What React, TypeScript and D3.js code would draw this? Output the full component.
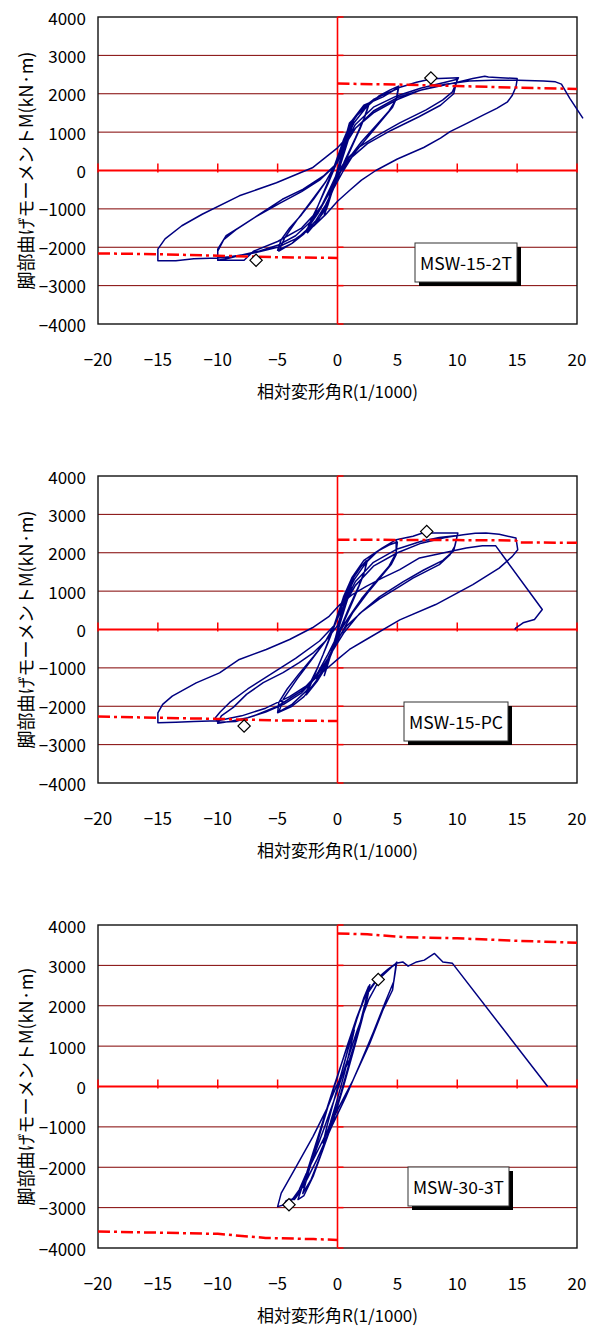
import React from "react";
import * as d3 from "d3";

// moment vs drift angle for three wall specimens
// each path is listed in loading order: [R (1/1000), M (kN·m)]

const xTicks = [-20, -15, -10, -5, 0, 5, 10, 15, 20];
const yTicks = [4000, 3000, 2000, 1000, 0, -1000, -2000, -3000, -4000];

const loops152T: [number, number][] = [
  [0, 0], [0.4, 400], [0.9, 900], [1.2, 1150], [0.9, 800], [0.3, 200], [-0.3, -400], [-0.8, -900], [-1.1, -1150], [-0.8, -800], [-0.2, -200], [0.3, 350],
  [0.8, 950], [1.5, 1400], [2.1, 1600], [2.6, 1700], [2.4, 1500], [1.9, 1100], [1.1, 550], [0.3, 0], [-0.5, -600], [-1.2, -1100], [-1.9, -1400], [-2.6, -1600],
  [-2.3, -1350], [-1.6, -900], [-0.8, -350], [0, 250], [0.7, 900], [1.0, 1240], [2.0, 1550], [2.55, 1670], [2.2, 1350], [1.5, 850], [0.6, 250], [-0.2, -350], [-1.0, -950], [-1.6, -1290], [-2.5, -1620], [-2.0, -1200], [-1.2, -600], [-0.4, 0],
  [0.4, 700], [1.0, 1150], [2.0, 1600], [3.0, 1850], [4.0, 2000], [4.8, 2100], [5.1, 2150],
  [4.95, 1900], [4.6, 1650], [3.8, 1350], [2.6, 900], [1.4, 450], [0.5, 0], [-0.3, -450], [-1.0, -900], [-1.8, -1300], [-2.8, -1650], [-3.8, -1900], [-5.0, -2080],
  [-4.7, -1800], [-4.0, -1500], [-3.0, -1150], [-2.0, -750], [-1.0, -300], [-0.2, 150], [0.6, 750], [1.4, 1250], [2.4, 1650], [3.5, 1950], [4.4, 2100], [5.1, 2200],
  [4.9, 1850], [4.3, 1550], [3.3, 1200], [2.0, 750], [0.9, 300], [0, -150], [-0.8, -650], [-1.6, -1100], [-2.6, -1550], [-3.8, -1900], [-4.9, -2100],
  [-4.4, -1750], [-3.4, -1300], [-2.2, -800], [-1.0, -300], [-0.2, 150],
  [0.5, 800], [1.2, 1300], [2.2, 1700], [3.8, 1920], [5.0, 2150], [5.8, 2220], [6.6, 2300], [7.9, 2390], [8.5, 2400], [10.1, 2420],
  [10.0, 2350], [9.6, 2050], [8.8, 1840], [7.4, 1580], [5.2, 1240], [3.2, 890], [1.9, 630], [0.75, 290], [0, -50], [-0.6, -450], [-1.3, -900], [-2.3, -1350], [-3.5, -1700], [-5.0, -1950], [-6.5, -2100], [-8.0, -2200], [-9.0, -2280], [-10.0, -2340],
  [-10.0, -2050], [-9.3, -1700], [-8.2, -1480], [-6.5, -1140], [-4.6, -750], [-2.9, -490], [-1.2, -150], [0, 200],
  [0.6, 700], [1.5, 1200], [3.0, 1650], [5.0, 1950], [7.0, 2150], [9.0, 2300], [10.0, 2380],
  [9.7, 2000], [8.6, 1700], [6.8, 1400], [4.5, 1050], [2.5, 700], [1.2, 350], [0.2, -50], [-0.5, -500], [-1.5, -1000], [-3.0, -1500], [-5.0, -1850], [-7.0, -2100], [-7.8, -2340], [-10.0, -2340], [-10.0, -2100],
  [-9.5, -1800], [-8.5, -1550], [-6.8, -1200], [-4.8, -850], [-3.0, -550], [-1.5, -250], [-0.3, 100],
  [0.5, 600], [1.5, 1100], [3.0, 1550], [5.0, 1900], [7.0, 2100], [10.0, 2300], [11.3, 2395], [12.3, 2455], [12.6, 2435], [13.6, 2420], [15.0, 2395],
  [15.0, 2370], [14.9, 2180], [14.6, 1960], [14.2, 1790], [13.3, 1620], [12.2, 1450], [10.8, 1230], [9.4, 1015], [8.6, 845], [7.2, 600], [5.0, 300], [3.2, 0], [2.0, -250], [1.0, -520], [0, -800], [-1.0, -1150], [-2.0, -1450], [-3.5, -1780], [-5.0, -2000], [-7.0, -2150], [-9.0, -2250], [-10.0, -2280], [-12.0, -2300], [-13.5, -2350], [-15.0, -2350],
  [-15.0, -2050], [-14.4, -1780], [-13.0, -1440], [-11.3, -1140], [-8.2, -660], [-5.1, -320], [-2.1, 70], [0, 590], [1.5, 1100], [3.0, 1500], [5.0, 1850], [7.0, 2100], [9.0, 2250], [11.0, 2330], [13.0, 2350], [15.1, 2350], [17.2, 2335], [18.2, 2310], [18.7, 2250], [19.4, 1880], [20.5, 1360],
];
const calcPos152T: [number, number][] = [[0, 2265], [5, 2240], [10, 2200], [15, 2160], [20, 2125]];
const calcNeg152T: [number, number][] = [[-20, -2160], [-15, -2180], [-10, -2220], [-5, -2260], [0, -2280]];
const peaks152T: [number, number][] = [[7.8, 2410], [-6.8, -2340]];

const loops15PC: [number, number][] = [
  [0, 0], [0.4, 450], [0.9, 950], [1.2, 1200], [0.9, 850], [0.3, 250], [-0.3, -400], [-0.8, -900], [-1.1, -1200], [-0.8, -850], [-0.2, -250], [0.3, 350],
  [0.8, 1000], [1.5, 1450], [2.0, 1650], [2.4, 1790], [2.3, 1550], [1.8, 1150], [1.0, 600], [0.2, 0], [-0.6, -650], [-1.3, -1150], [-2.0, -1450], [-2.6, -1650],
  [-2.3, -1400], [-1.6, -950], [-0.8, -350], [0, 300], [0.7, 950], [1.3, 1350], [2.0, 1650], [2.5, 1800], [2.2, 1450], [1.5, 900], [0.6, 250], [-0.2, -400], [-1.0, -1000], [-1.7, -1350], [-2.6, -1700], [-2.0, -1250], [-1.2, -650], [-0.4, 0],
  [0.4, 750], [1.0, 1200], [2.0, 1650], [3.0, 1950], [3.75, 2125], [4.9, 2340],
  [4.9, 1950], [4.5, 1700], [3.7, 1400], [2.5, 950], [1.3, 450], [0.5, 0], [-0.3, -450], [-1.0, -900], [-1.8, -1350], [-2.8, -1750], [-3.8, -2000], [-5.0, -2170],
  [-4.9, -1900], [-4.2, -1550], [-3.2, -1150], [-2.0, -700], [-1.0, -300], [-0.2, 150], [0.6, 800], [1.4, 1300], [2.4, 1750], [3.4, 2050], [4.3, 2200], [5.0, 2280],
  [4.9, 2000], [4.3, 1650], [3.2, 1250], [2.0, 800], [0.9, 300], [0, -150], [-0.8, -650], [-1.6, -1100], [-2.6, -1600], [-3.8, -1950], [-4.9, -2150],
  [-4.5, -1800], [-3.4, -1300], [-2.2, -800], [-1.0, -300], [-0.2, 150],
  [0.5, 850], [1.2, 1350], [2.2, 1800], [3.75, 2125], [4.9, 2340], [6.3, 2430], [7.1, 2515], [8.5, 2515], [10.05, 2515],
  [9.8, 2170], [9.4, 1950], [8.5, 1690], [7.4, 1515], [6.3, 1340], [5.2, 1125], [3.5, 800], [2.0, 450], [0.8, 100], [0, -250], [-0.8, -750], [-1.8, -1250], [-3.0, -1650], [-4.5, -1950], [-6.0, -2150], [-7.5, -2300], [-9.0, -2400], [-10.0, -2445],
  [-9.7, -2250], [-8.7, -2030], [-7.6, -1690], [-6.2, -1385], [-4.55, -1125], [-3.2, -865], [-2.0, -600], [-1.0, -300], [0, 100],
  [0.6, 700], [1.5, 1250], [3.0, 1750], [5.0, 2100], [7.0, 2300], [8.5, 2400], [10.0, 2450],
  [9.7, 2050], [8.8, 1800], [7.2, 1550], [5.5, 1250], [3.5, 850], [1.8, 400], [0.5, -100], [-0.5, -600], [-1.5, -1100], [-3.0, -1600], [-5.0, -2000], [-7.0, -2250], [-8.5, -2400], [-10.0, -2420],
  [-10.2, -2300], [-9.8, -2150], [-9.0, -1900], [-7.5, -1550], [-5.5, -1150], [-3.5, -750], [-1.5, -300], [-0.3, 100],
  [0.5, 600], [1.5, 1150], [3.0, 1650], [5.0, 2000], [7.0, 2250], [9.0, 2400], [10.5, 2470], [11.5, 2510], [12.4, 2515], [13.5, 2480], [14.9, 2385], [15.05, 2080],
  [14.6, 1905], [13.5, 1600], [11.3, 1170], [8.2, 650], [5.2, 250], [2.4, -260], [1.0, -520], [0, -780], [-1.0, -1050], [-2.5, -1450], [-4.0, -1750], [-6.0, -2050], [-8.0, -2250], [-10.0, -2380], [-12.0, -2400], [-13.5, -2420], [-15.0, -2430],
  [-15.0, -2170], [-14.6, -1950], [-13.8, -1735], [-11.8, -1390], [-9.85, -1130], [-8.2, -780], [-5.95, -520], [-4.0, -260], [-2.1, 45], [-0.7, 345], [0.2, 650],
  [1.2, 900], [2.4, 1125], [3.8, 1350], [5.2, 1560], [6.85, 1865], [8.8, 1995], [10.75, 2125], [12.1, 2185], [13.2, 2185], [17.1, 520], [16.45, 260], [15.5, 175], [14.9, 45], [14.8, 0],
];
const calcPos15PC: [number, number][] = [[0, 2340], [10, 2330], [14.9, 2320], [15.1, 2270], [20, 2260]];
const calcNeg15PC: [number, number][] = [[-20, -2270], [-15, -2300], [-10, -2330], [-5, -2370], [0, -2385]];
const peaks15PC: [number, number][] = [[7.45, 2555], [-7.8, -2515]];

const loops303T: [number, number][] = [
  [0, 0], [0.5, 500], [1.0, 1050], [1.4, 1400], [1.1, 1000], [0.6, 350], [0, -300], [-0.6, -900], [-1.2, -1400], [-0.9, -1000], [-0.3, -350], [0.3, 300],
  [0.9, 950], [1.6, 1650], [2.2, 2200], [2.6, 2480], [2.3, 2050], [1.7, 1350], [1.0, 600], [0.2, -250], [-0.6, -1000], [-1.4, -1700], [-2.2, -2300], [-2.9, -2650],
  [-2.4, -2100], [-1.6, -1300], [-0.8, -500], [0, 250], [0.8, 1000], [1.6, 1700], [2.3, 2250], [2.7, 2520],
  [2.5, 2200], [2.0, 1600], [1.3, 850], [0.5, 0], [-0.3, -800], [-1.2, -1550], [-2.0, -2200], [-2.8, -2700], [-3.3, -2800],
  [-2.8, -2350], [-2.0, -1600], [-1.1, -750], [-0.3, 0], [0.6, 800], [1.5, 1600], [2.4, 2300], [3.4, 2700], [4.2, 2900], [4.9, 3050],
  [4.6, 2390], [3.8, 1900], [2.7, 1070], [1.3, 160], [0, -580], [-1.2, -1320], [-2.6, -2150], [-3.2, -2560], [-4.0, -2890], [-5.0, -2975],
  [-4.7, -2640], [-3.45, -1985], [-2.05, -1240], [-0.8, -500], [-0.1, 0], [1.0, 660], [1.8, 1400], [2.5, 2300], [3.2, 2600], [4.0, 2850], [4.8, 3020], [4.95, 3080],
  [4.7, 2600], [4.0, 2100], [3.0, 1350], [1.8, 500], [0.7, -250], [-0.5, -1000], [-1.7, -1800], [-2.8, -2450], [-3.6, -2750], [-4.1, -2900], [-4.5, -2950],
  [-4.3, -2830], [-3.9, -2790], [-3.6, -2800], [-3.1, -2600], [-2.2, -1900], [-1.2, -1100], [-0.3, -350], [0.6, 450], [1.6, 1350], [2.6, 2150], [3.6, 2700], [4.6, 2980], [4.9, 3050],
  [5.45, 3085], [5.9, 2980], [6.6, 3085], [7.25, 3130], [8.1, 3295], [8.8, 3085], [9.6, 3050], [17.55, 0],
];
const calcPos303T: [number, number][] = [[0, 3790], [2.5, 3770], [5.5, 3700], [10, 3670], [15, 3610], [20, 3560]];
const calcNeg303T: [number, number][] = [[-20, -3590], [-10, -3650], [-6, -3750], [-2, -3780], [0, -3800]];
const peaks303T: [number, number][] = [[3.4, 2650], [-4.05, -2930]];

const FONT = "'Noto Sans CJK JP', 'Noto Sans', sans-serif";
const LEFT = 98;
const RIGHT = 577;

const fmt = (v: number) => (v < 0 ? "\u2212" + Math.abs(v) : String(v));

type PanelProps = {
  top: number;
  bottom: number;
  loops: [number, number][];
  calcPos: [number, number][];
  calcNeg: [number, number][];
  peaks: [number, number][];
  name: string;
  boxX: number;
  boxY: number;
  boxW: number;
};

function Panel({ top, bottom, loops, calcPos, calcNeg, peaks, name, boxX, boxY, boxW }: PanelProps) {
  const x = d3.scaleLinear().domain([-20, 20]).range([LEFT, RIGHT]);
  const y = d3.scaleLinear().domain([-4000, 4000]).range([bottom, top]);
  const line = d3
    .line<[number, number]>()
    .x((d) => x(d[0]))
    .y((d) => y(d[1]));
  const diamond = d3.symbol().type(d3.symbolSquare).size(76)();
  const x0 = x(0);
  const y0 = y(0);
  const boxH = 39;

  return (
    <g fontFamily={FONT}>
      {yTicks
        .filter((v) => v !== 0 && Math.abs(v) !== 4000)
        .map((v) => (
          <line key={v} x1={LEFT} x2={RIGHT} y1={y(v)} y2={y(v)} stroke="#800000" strokeWidth={1} />
        ))}
      <rect x={LEFT} y={top} width={RIGHT - LEFT} height={bottom - top} fill="none" stroke="#111" strokeWidth={1.4} />

      {/* red zero axes with their tick marks */}
      <line x1={LEFT} x2={RIGHT} y1={y0} y2={y0} stroke="#ff0000" strokeWidth={2} />
      <line x1={x0} x2={x0} y1={top} y2={bottom} stroke="#ff0000" strokeWidth={1.6} />
      {xTicks.map((v) => (
        <line key={v} x1={x(v)} x2={x(v)} y1={y0 - 7} y2={y0 + 2} stroke="#ff0000" strokeWidth={1.5} />
      ))}
      {yTicks.map((v) => (
        <line key={v} x1={x0} x2={x0 + 6} y1={y(v)} y2={y(v)} stroke="#ff0000" strokeWidth={1.5} />
      ))}

      <path d={line(loops) ?? ""} fill="none" stroke="#000080" strokeWidth={1.5} strokeLinejoin="round" />

      {[calcPos, calcNeg].map((s, i) => (
        <path key={i} d={line(s) ?? ""} fill="none" stroke="#ff0000" strokeWidth={2.5} strokeDasharray="12 4 3 4" />
      ))}

      {peaks.map((p, i) => (
        <path
          key={i}
          d={diamond ?? ""}
          transform={`translate(${x(p[0])},${y(p[1])}) rotate(45)`}
          fill="#fff"
          stroke="#000"
          strokeWidth={1.2}
        />
      ))}

      {yTicks.map((v) => (
        <text key={v} x={86} y={y(v)} textAnchor="end" dominantBaseline="central" fontSize={17}>
          {fmt(v)}
        </text>
      ))}
      {xTicks.map((v) => (
        <text key={v} x={x(v)} y={bottom + 34} textAnchor="middle" dominantBaseline="central" fontSize={17}>
          {fmt(v)}
        </text>
      ))}
      <text x={x0} y={bottom + 66} textAnchor="middle" dominantBaseline="central" fontSize={17}>
        相対変形角R(1/1000)
      </text>
      <text
        transform={`translate(25,${(top + bottom) / 2}) rotate(-90)`}
        textAnchor="middle"
        dominantBaseline="central"
        fontSize={18}
      >
        脚部曲げモーメントM(kN·m)
      </text>

      <rect x={boxX + 4} y={boxY + 4} width={boxW} height={boxH} fill="#000" />
      <rect x={boxX} y={boxY} width={boxW} height={boxH} fill="#fff" stroke="#333" strokeWidth={1} />
      <text
        x={boxX + boxW / 2}
        y={boxY + boxH / 2}
        textAnchor="middle"
        dominantBaseline="central"
        fontSize={17}
        textLength={boxW - 10}
        lengthAdjust="spacingAndGlyphs"
      >
        {name}
      </text>
    </g>
  );
}

export default function App() {
  return (
    <>
      <style>{"body{margin:0;background:#fff}"}</style>
      <svg width={598} height={1327} style={{ display: "block" }}>
        <rect width={598} height={1327} fill="#fff" />
        <Panel top={17} bottom={324} loops={loops152T} calcPos={calcPos152T} calcNeg={calcNeg152T}
          peaks={peaks152T} name="MSW-15-2T" boxX={415} boxY={243} boxW={102} />
        <Panel top={476} bottom={783} loops={loops15PC} calcPos={calcPos15PC} calcNeg={calcNeg15PC}
          peaks={peaks15PC} name="MSW-15-PC" boxX={404} boxY={702} boxW={104} />
        <Panel top={925} bottom={1248} loops={loops303T} calcPos={calcPos303T} calcNeg={calcNeg303T}
          peaks={peaks303T} name="MSW-30-3T" boxX={408} boxY={1167} boxW={101} />
      </svg>
    </>
  );
}
